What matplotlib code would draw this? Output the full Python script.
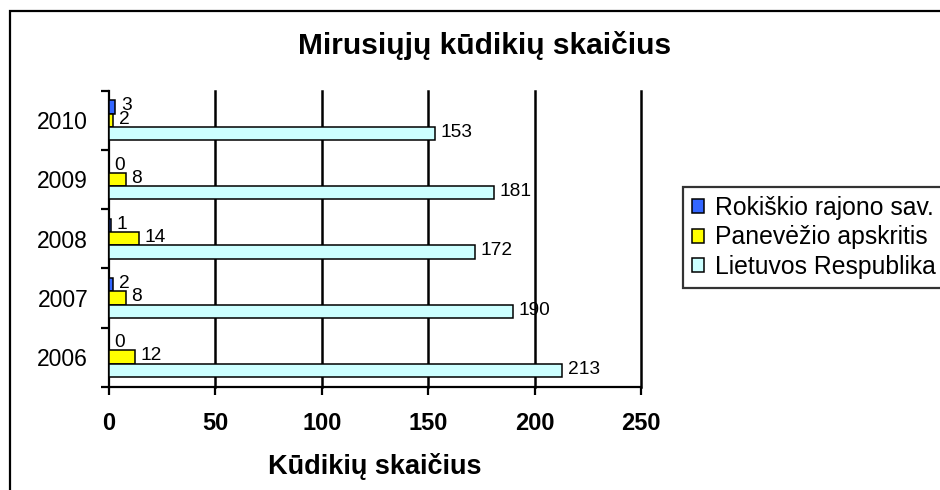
import matplotlib
matplotlib.use("Agg")
import matplotlib.pyplot as plt
from matplotlib.patches import Rectangle
import numpy as np

plt.rcParams['font.family'] = ['Liberation Sans', 'DejaVu Sans']

years = ['2006', '2007', '2008', '2009', '2010']
rokiskis = [0, 2, 1, 0, 3]
panevezys = [12, 8, 14, 8, 2]
lietuva = [213, 190, 172, 181, 153]
series_names = ['Rokiškio rajono sav.', 'Panevėžio apskritis', 'Lietuvos Respublika']
colors = ['#3366FF', '#FFFF00', '#CCFFFF']
title = 'Mirusiųjų kūdikių skaičius'
xlabel = 'Kūdikių skaičius'
xticks = [0, 50, 100, 150, 200, 250]

fig = plt.figure(figsize=(9.4, 4.9), dpi=100)
ax = fig.add_axes([109/940, 1-386.7/490, (641-109)/940, (386.7-90.7)/490])

pos = np.arange(len(years))
h = 0.225
offsets = [h, 0, -h]
for vals, off, col, name in zip([rokiskis, panevezys, lietuva], offsets, colors, series_names):
    bars = ax.barh(pos + off, vals, height=h, color=col, edgecolor='black', linewidth=1.1, label=name, zorder=3)
    for b, v in zip(bars, vals):
        ax.annotate(str(v), xy=(v, b.get_y() + b.get_height()/2), xytext=(4, 0.8),
                    textcoords='offset points', ha='left', va='center', fontsize=13.8, zorder=4)

ax.set_xlim(0, 250)
ax.set_ylim(-0.5, len(years) - 0.5)
ax.set_xticks(xticks)
ax.set_xticklabels([str(t) for t in xticks], fontsize=17, fontweight='bold')
ax.set_yticks(pos)
ax.set_yticklabels(years, fontsize=16.5)
ax.set_yticks(np.arange(-0.5, len(years), 1.0), minor=True)
ax.tick_params(axis='y', which='major', length=0, pad=15)
ax.tick_params(axis='y', which='minor', length=6, width=1.6, direction='out')
ax.tick_params(axis='x', which='major', length=6, width=1.6, direction='out', pad=12)
for t in xticks[1:]:
    ax.axvline(t, color='black', linewidth=1.8, zorder=1, clip_on=False)
ax.spines['top'].set_visible(False)
ax.spines['right'].set_visible(False)
ax.spines['left'].set_linewidth(1.6)
ax.spines['bottom'].set_linewidth(1.6)
ax.set_xlabel(xlabel, fontsize=19.5, fontweight='bold', labelpad=13)

fig.text(485/940, 1-45/490, title, ha='center', va='center', fontsize=21.5, fontweight='bold')

leg = fig.legend(loc='upper left', bbox_to_anchor=(683/940, 1-187/490), fontsize=17.8,
                 frameon=True, fancybox=False, edgecolor='black', handlelength=0.5,
                 handleheight=0.5, handletextpad=0.45, labelspacing=0.23, borderpad=0.35,
                 borderaxespad=0)
leg.get_frame().set_linewidth(1.6)

fig.patches.append(Rectangle((9.5/940, -0.1), 1.2, 1.1 - 11/490, transform=fig.transFigure,
                             fill=False, edgecolor='black', linewidth=1.6))

fig.savefig('out.png', dpi=100)
